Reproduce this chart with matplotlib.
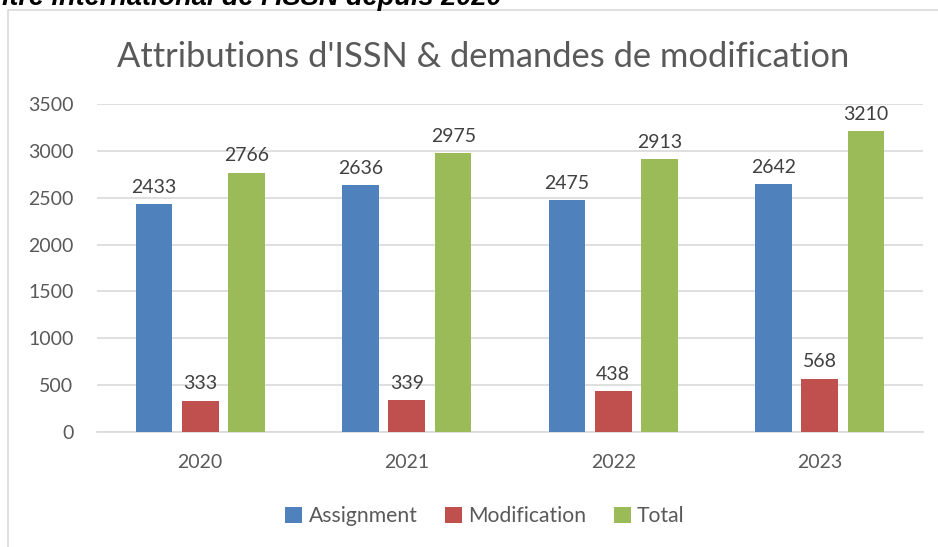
import matplotlib
matplotlib.use("Agg")
import matplotlib.pyplot as plt
import numpy as np
from matplotlib.patches import Rectangle

years = ["2020", "2021", "2022", "2023"]
assignment = [2433, 2636, 2475, 2642]
modification = [333, 339, 438, 568]
total = [2766, 2975, 2913, 3210]

series = ["Assignment", "Modification", "Total"]
colors = ["#4F81BD", "#C0504D", "#9BBB59"]

plt.rcParams['font.family'] = ['Lato', 'DejaVu Sans']

fig = plt.figure(figsize=(9.38, 5.47), dpi=100)
ax = fig.add_axes([97/938, 1 - 432/547, (923 - 97)/938, (432 - 104)/547])

# frame of the chart object (cut at right/bottom)
fig.add_artist(Rectangle((8/938, -0.1), 1.2, 1 - 10/547 + 0.1, transform=fig.transFigure,
                         fill=False, edgecolor="#D9D9D9", lw=1.2))

# heading of the page, cropped at the top as in the screenshot
fig.text(502/938, 1 - 5/547, "Centre international de l'ISSN depuis 2020", ha="right", va="baseline",
         fontsize=19.5, fontweight="bold", fontstyle="italic", family=["Liberation Sans", "DejaVu Sans"])

x = np.arange(len(years))
w = 0.177
off = 0.225
for i, (vals, name, c) in enumerate(zip([assignment, modification, total], series, colors)):
    bars = ax.bar(x + (i - 1) * off, vals, w, color=c, label=name, zorder=3)
    for b, v in zip(bars, vals):
        ax.text(b.get_x() + b.get_width() / 2, v + 90, str(v), ha="center", va="bottom",
                fontsize=14, color="#404040")

ax.set_xlim(-0.5, 3.5)
ax.set_ylim(0, 3500)
ax.set_yticks(np.arange(0, 3501, 500))
ax.set_xticks(x)
ax.set_xticklabels(years)
ax.grid(axis="y", color="#D9D9D9", lw=1.2, zorder=0)
for s in ["left", "right", "top"]:
    ax.spines[s].set_visible(False)
ax.spines["bottom"].set_color("#D9D9D9")
ax.spines["bottom"].set_linewidth(1.2)
ax.tick_params(axis="both", length=0, labelsize=14, labelcolor="#595959")
ax.tick_params(axis="y", pad=17)
ax.tick_params(axis="x", pad=16)

fig.text(0.515, 1 - 57/547, "Attributions d'ISSN & demandes de modification", ha="center", va="center",
         fontsize=24.8, color="#595959")

fig.legend(loc="center", bbox_to_anchor=(0.517, 1 - 516/547), ncol=3, frameon=False,
           fontsize=15.2, labelcolor="#595959", handlelength=0.8, handleheight=0.8,
           handletextpad=0.3, columnspacing=1.3)

fig.savefig("out.png", dpi=100, facecolor="white")
